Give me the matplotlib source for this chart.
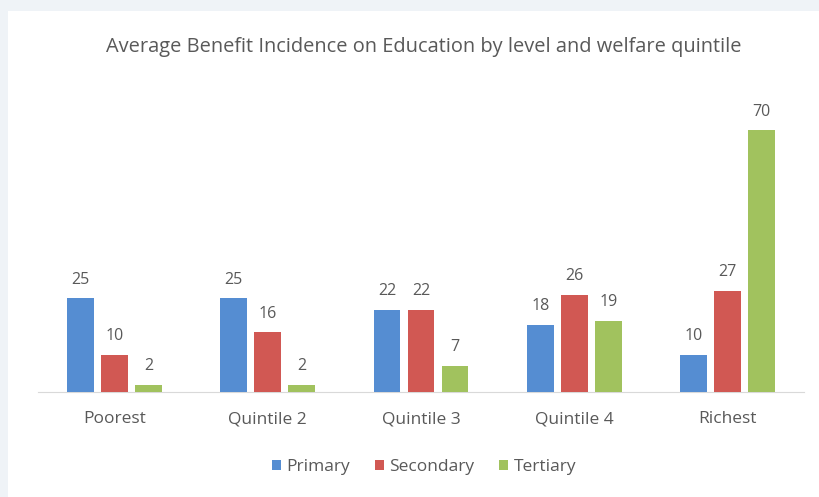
import numpy as np
import matplotlib
matplotlib.use("Agg")
import matplotlib.pyplot as plt
from matplotlib.patches import Rectangle

# dati
categories = ["Poorest", "Quintile 2", "Quintile 3", "Quintile 4", "Richest"]
series = ["Primary", "Secondary", "Tertiary"]
primary = [25, 25, 22, 18, 10]
secondary = [10, 16, 22, 26, 27]
tertiary = [2, 2, 7, 19, 70]
values = [primary, secondary, tertiary]
colors = ["#558DD2", "#D15853", "#A1C25E"]

plt.rcParams['font.family'] = ['Open Sans', 'DejaVu Sans']
txt = "#595959"

fig = plt.figure(figsize=(8.2, 4.97), dpi=100)
fig.patch.set_facecolor("#eff3f7")
# pannello bianco
fig.patches.append(Rectangle((8/820, 0), 1, 1 - 11/497, transform=fig.transFigure,
                             facecolor="white", edgecolor="none", zorder=-1))

ax = fig.add_axes([38/820, 1 - 392/497, (804 - 38)/820, 0.6024])
ax.set_zorder(1)
ax.set_facecolor("none")

x = np.arange(len(categories))
width = 0.176
step = 0.222
for i, (name, vals) in enumerate(zip(series, values)):
    pos = x + (i - 1) * step
    ax.bar(pos, vals, width, color=colors[i], label=name, zorder=3)
    for p, v in zip(pos, vals):
        ax.text(p, v + 2.8, str(v), ha="center", va="bottom", fontsize=11.5, color=txt)

ax.set_xlim(-0.5, 4.5)
ax.set_ylim(0, 80)
ax.set_yticks([])
ax.set_xticks(x)
ax.set_xticklabels(categories, fontsize=12.5, color=txt)
ax.tick_params(axis="x", length=0, pad=14)
for s in ["top", "right", "left"]:
    ax.spines[s].set_visible(False)
ax.spines["bottom"].set_color("#d9d9d9")

fig.text(424/820, 1 - 47/497, "Average Benefit Incidence on Education by level and welfare quintile",
         ha="center", va="center", fontsize=14.4, color=txt)

fig.legend(loc="center", bbox_to_anchor=(424/820, 1 - 467/497), ncol=3, frameon=False,
           fontsize=12.5, handlelength=0.55, handleheight=0.55, handletextpad=0.3,
           columnspacing=1.4, labelcolor=txt)

fig.savefig("out.png", dpi=100, facecolor=fig.get_facecolor())
